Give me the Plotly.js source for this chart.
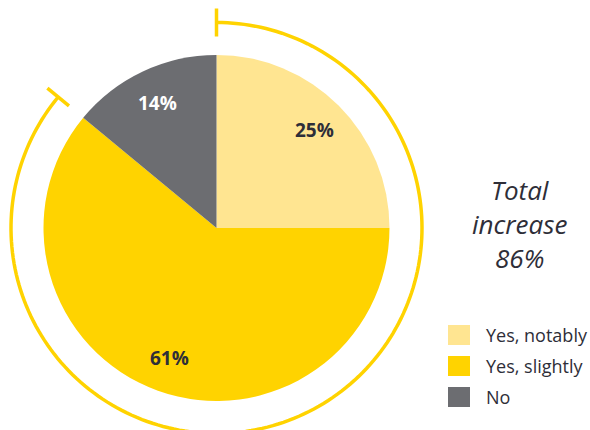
<!DOCTYPE html>
<html>
<head>
<meta charset="utf-8">
<script src="https://cdn.plot.ly/plotly-3.0.1.min.js"></script>
<style>html,body{margin:0;padding:0;background:#fff;}#chart{width:590px;height:430px;}</style>
</head>
<body>
<div id="chart"></div>
<script>
// ---- data ----
const categories = ["Yes, notably", "Yes, slightly", "No"];
const values = [25, 61, 14];
const colors = ["#FFE591", "#FFD300", "#6C6D71"];
const labelColors = ["#2E2E38", "#2E2E38", "#FFFFFF"];
const increaseTitle = "Total<br>increase";

// ---- geometry (pixels) ----
const W = 590, H = 430;
const cx = 216.5, cy = 228, R = 173;
const ringR = 205.5, tickHalf = 14;
const ringColor = "#FFD300";
const dark = "#2E2E38";

const total = values.reduce((a, b) => a + b, 0);
const increase = values[0] + values[1];

const shapes = [];
const annotations = [];

// ring arc covering the "yes" share, clockwise from 12 o'clock
const endAngle = increase / total * 2 * Math.PI;
const pt = (r, a) => [cx + r * Math.sin(a), cy - r * Math.cos(a)];
let path = "";
const N = 200;
for (let i = 0; i <= N; i++) {
  const a = endAngle * i / N;
  const p = pt(ringR, a);
  path += (i === 0 ? "M" : "L") + p[0].toFixed(2) + "," + p[1].toFixed(2);
}
shapes.push({type: "path", xref: "x", yref: "y", path: path, line: {color: ringColor, width: 3.5}});
[0, endAngle].forEach(a => {
  const p0 = pt(ringR - tickHalf, a), p1 = pt(ringR + tickHalf, a);
  shapes.push({type: "line", xref: "x", yref: "y", x0: p0[0], y0: p0[1], x1: p1[0], y1: p1[1],
    line: {color: ringColor, width: 3.5}});
});

// slice labels at mid-angles
let cum = 0;
values.forEach((v, i) => {
  const mid = (cum + v / 2) / total * 2 * Math.PI;
  cum += v;
  const p = pt(R * 0.8, mid);
  annotations.push({xref: "x", yref: "y", x: p[0], y: p[1], text: "<b>" + v + "%</b>", showarrow: false,
    xanchor: "center", yanchor: "middle",
    font: {family: "Open Sans", size: 19, color: labelColors[i]}});
});

// total increase text
annotations.push({xref: "x", yref: "y", x: 519, y: 224, showarrow: false, xanchor: "center", yanchor: "middle",
  text: "<i>" + increaseTitle + "<br>" + increase + "%</i>",
  font: {family: "Open Sans", size: 26, color: dark}});

// custom legend
categories.forEach((c, i) => {
  const yc = 335 + i * 31;
  shapes.push({type: "rect", xref: "x", yref: "y", x0: 448, x1: 470, y0: yc - 10, y1: yc + 10,
    fillcolor: colors[i], line: {width: 0}});
  annotations.push({xref: "x", yref: "y", x: 484, y: yc, text: c, showarrow: false,
    xanchor: "left", yanchor: "middle", font: {family: "Open Sans", size: 18, color: dark}});
});

const trace = {
  type: "pie",
  labels: categories,
  values: values,
  sort: false,
  direction: "clockwise",
  rotation: 0,
  marker: {colors: colors, line: {width: 0}},
  textinfo: "none",
  hoverinfo: "label+percent",
  showlegend: false,
  domain: {x: [(cx - R) / W, (cx + R) / W], y: [(H - cy - R) / H, (H - cy + R) / H]}
};

const layout = {
  width: W, height: H,
  margin: {l: 0, r: 0, t: 0, b: 0},
  paper_bgcolor: "#fff", plot_bgcolor: "rgba(0,0,0,0)",
  showlegend: false,
  xaxis: {range: [0, W], visible: false, fixedrange: true},
  yaxis: {range: [H, 0], visible: false, fixedrange: true},
  shapes: shapes,
  annotations: annotations
};

Plotly.newPlot("chart", [trace], layout, {displayModeBar: false, staticPlot: true});
</script>
</body>
</html>
